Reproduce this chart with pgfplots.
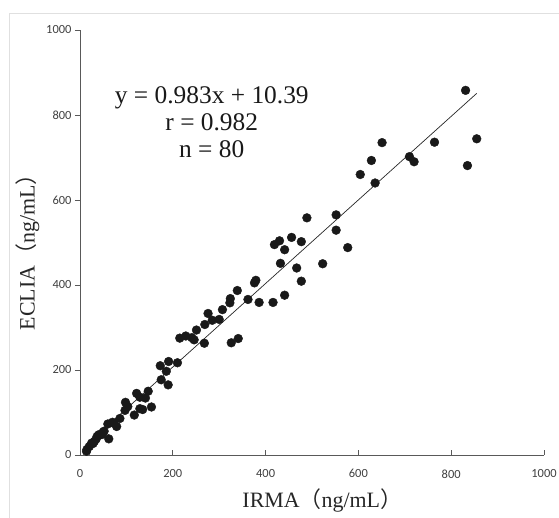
\documentclass[border=0pt]{standalone}
\usepackage{fontspec}
\setmainfont{Liberation Serif}
\newfontfamily\tickfont{Carlito}
\newfontfamily\cjk{Noto Sans CJK JP}
\usepackage{pgfplots}
\pgfplotsset{compat=1.18}
\begin{document}
\begin{tikzpicture}
\useasboundingbox (0,0) rectangle (559bp,518bp);
\draw[black!12, line width=0.8bp] (9bp,0) -- (9bp,505bp) -- (559bp,505bp);
\begin{axis}[
  at={(80bp,63bp)}, anchor=south west,
  scale only axis, width=464bp, height=425bp,
  xmin=0, xmax=1000, ymin=0, ymax=1000,
  axis lines=left,
  axis line style={-, black!65, line width=0.8bp},
  xtick={0,200,...,1000}, ytick={0,200,...,1000},
  tick align=outside,
  major tick length=5bp,
  tick style={black!65, line width=0.8bp},
  x tick style={yshift=5bp},
  tick label style={font=\tickfont\fontsize{12.5}{14}\selectfont, text=black!75},
  /pgf/number format/assume math mode=true,
  /pgf/number format/1000 sep={},
  xticklabel style={yshift=-6bp},
  xlabel={IRMA{\cjk （}ng/mL{\cjk ）}},
  ylabel={ECLIA{\cjk （}ng/mL{\cjk ）}},
  xlabel style={at={(axis description cs:0.522,-0.106)}, anchor=center, font=\fontsize{22}{24}\selectfont, text=black!85},
  ylabel style={at={(axis description cs:-0.113,0.49)}, anchor=center, font=\fontsize{22}{24}\selectfont, text=black!85},
  clip=false,
]
\addplot[only marks, mark=*, mark size=4.4bp, color=black!90] coordinates {
(831,858) (855,744) (835,681) (764,736) (651,735) (710,702) (720,690) (628,693)
(604,660) (636,640) (552,565) (489,558) (552,529) (577,488) (456,512) (477,502)
(430,504) (419,495) (441,483) (523,450) (432,451) (467,440) (477,409) (379,411)
(376,405) (441,376) (416,359) (386,359) (362,366) (339,387) (324,368) (323,358)
(307,342) (300,319) (285,317) (276,333) (269,307) (251,294) (246,271) (241,276)
(228,280) (215,275) (268,263) (326,264) (341,274) (210,217) (191,220) (186,197)
(173,210) (175,177) (190,165) (147,150) (122,145) (129,136) (141,134) (98,124)
(103,114) (97,105) (129,109) (135,107) (154,113) (117,94) (86,86) (70,77)
(79,67) (60,73) (62,38) (52,56) (47,48) (41,48) (35,38) (31,32)
(25,28) (20,20) (15,13) (14,9) (37,44) (28,27) (50,54) (73,75)
};
\addplot[black!85, line width=0.7bp] coordinates {(18,28.1) (855,850.9)};
\node[align=center, font=\fontsize{25.5}{27}\selectfont, text=black!90] at (axis cs:284,784) {y = 0.983x + 10.39\\r = 0.982\\n = 80};
\end{axis}
\end{tikzpicture}
\end{document}
